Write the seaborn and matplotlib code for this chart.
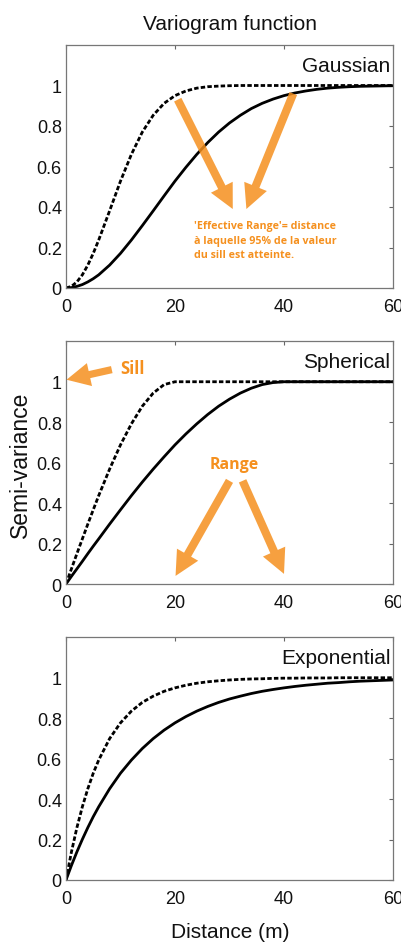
import numpy as np
import pandas as pd
import matplotlib
matplotlib.use("Agg")
import matplotlib.pyplot as plt
import seaborn as sns

# Lag distances (m) at which the variogram models are tabulated
distance = [0, 1, 2, 3, 4, 5, 6, 8, 10, 12, 14, 16, 18, 20, 22, 24, 26, 28, 30,
            32, 34, 36, 38, 40, 42, 44, 46, 48, 50, 52, 54, 56, 58, 60]

# Semi-variance, short range (dashed) and long range (solid), per model
gauss_short = [0, 0.008, 0.030, 0.065, 0.113, 0.171, 0.237, 0.381, 0.528, 0.660,
               0.770, 0.853, 0.912, 0.950, 0.973, 0.987, 0.994, 0.997, 0.999,
               1.0, 1.0, 1.0, 1.0, 1.0, 1.0, 1.0, 1.0, 1.0, 1.0, 1.0, 1.0, 1.0, 1.0, 1.0]
gauss_long = [0, 0.002, 0.008, 0.017, 0.030, 0.046, 0.065, 0.113, 0.171, 0.237,
              0.308, 0.381, 0.455, 0.528, 0.596, 0.660, 0.718, 0.770, 0.815,
              0.853, 0.886, 0.912, 0.933, 0.950, 0.963, 0.973, 0.981, 0.987,
              0.991, 0.994, 0.996, 0.997, 0.998, 0.999]
sph_short = [0, 0.075, 0.150, 0.223, 0.296, 0.367, 0.437, 0.568, 0.688, 0.792,
             0.879, 0.944, 0.986, 1.0, 1.0, 1.0, 1.0, 1.0, 1.0, 1.0, 1.0, 1.0,
             1.0, 1.0, 1.0, 1.0, 1.0, 1.0, 1.0, 1.0, 1.0, 1.0, 1.0, 1.0]
sph_long = [0, 0.038, 0.075, 0.112, 0.150, 0.187, 0.223, 0.296, 0.367, 0.437,
            0.504, 0.568, 0.629, 0.688, 0.742, 0.792, 0.838, 0.879, 0.914,
            0.944, 0.968, 0.986, 0.996, 1.0, 1.0, 1.0, 1.0, 1.0, 1.0, 1.0, 1.0,
            1.0, 1.0, 1.0]
exp_short = [0, 0.139, 0.259, 0.362, 0.451, 0.528, 0.593, 0.699, 0.777, 0.835,
             0.878, 0.909, 0.933, 0.950, 0.963, 0.973, 0.980, 0.985, 0.989,
             0.992, 0.994, 0.995, 0.997, 0.998, 0.998, 0.999, 0.999, 0.999,
             1.0, 1.0, 1.0, 1.0, 1.0, 1.0]
exp_long = [0, 0.072, 0.139, 0.201, 0.259, 0.313, 0.362, 0.451, 0.528, 0.593,
            0.650, 0.699, 0.741, 0.777, 0.808, 0.835, 0.858, 0.878, 0.895,
            0.909, 0.922, 0.933, 0.942, 0.950, 0.957, 0.963, 0.968, 0.973,
            0.976, 0.980, 0.983, 0.985, 0.987, 0.989]

model_names = ["Gaussian", "Spherical", "Exponential"]
x_ticks = [0, 20, 40, 60]
y_ticks = [0, 0.2, 0.4, 0.6, 0.8, 1]
y_tick_labels = ["0", "0.2", "0.4", "0.6", "0.8", "1"]

ORANGE = "#F5901E"

sns.set_theme(style="white")
plt.rcParams["font.family"] = ["Liberation Sans", "DejaVu Sans"]

fig = plt.figure(figsize=(4.02, 9.45), dpi=100)
W, H = 402.0, 945.0
panel_px = [(46, 289), (342.3, 585), (638.3, 881)]
axes = []
for top, bottom in panel_px:
    axes.append(fig.add_axes([66 / W, 1 - bottom / H, 327 / W, (bottom - top) / H]))

series = [(gauss_short, gauss_long), (sph_short, sph_long), (exp_short, exp_long)]

for ax, name, (short, long_) in zip(axes, model_names, series):
    df = pd.DataFrame({"distance": distance, "short": short, "long": long_})
    sns.lineplot(data=df, x="distance", y="long", ax=ax, color="black", lw=2.0)
    sns.lineplot(data=df, x="distance", y="short", ax=ax, color="black", lw=2.0,
                 linestyle=(0, (1.6, 0.8)))
    ax.set_xlim(0, 60)
    ax.set_ylim(0, 1.2)
    ax.set_xticks(x_ticks)
    ax.set_xticklabels([str(t) for t in x_ticks])
    ax.set_yticks(y_ticks)
    ax.set_yticklabels(y_tick_labels)
    ax.set_xlabel("")
    ax.set_ylabel("")
    ax.tick_params(direction="in", top=True, right=True, length=3, width=0.8,
                   color="#666666", labelsize=13, labelcolor="#111111")
    ax.tick_params(axis="x", pad=7)
    ax.tick_params(axis="y", pad=3)
    for sp in ax.spines.values():
        sp.set_visible(True)
        sp.set_color("#777777")
        sp.set_linewidth(0.9)
    ax.text(59.5, 1.10, name, ha="right", va="center", fontsize=15, color="#111111")

# Title and shared axis labels
fig.text(230 / W, 1 - 25 / H, "Variogram function", ha="center", va="center",
         fontsize=15, color="#111111")
fig.text(20 / W, 1 - 465 / H, "Semi-variance", ha="center", va="center",
         rotation=90, fontsize=16.5, color="#111111")
fig.text(230 / W, 1 - 933 / H, "Distance (m)", ha="center", va="center",
         fontsize=15, color="#111111")


def arrow(ax, start, end, tail=0.45, head_w=1.35, head_l=1.35, scale=13):
    ax.annotate("", xy=end, xytext=start,
                arrowprops=dict(arrowstyle=f"simple,head_length={head_l},"
                                           f"head_width={head_w},tail_width={tail}",
                                mutation_scale=scale, color=ORANGE, alpha=0.85,
                                lw=0, shrinkA=0, shrinkB=0),
                annotation_clip=False, zorder=5)


# Gaussian panel: effective range annotation
ax = axes[0]
arrow(ax, (20.5, 0.93), (30.6, 0.39))
arrow(ax, (41.7, 0.96), (33.1, 0.39))
ax.text(23.5, 0.335, "'Effective Range'= distance\nà laquelle 95% de la valeur\ndu sill est atteinte.",
        ha="left", va="top", fontsize=7.7, fontweight="bold", color=ORANGE,
        family=["Open Sans", "DejaVu Sans"], linespacing=1.45)

# Spherical panel: sill and range annotations
ax = axes[1]
arrow(ax, (8.4, 1.06), (0.1, 1.01), tail=0.4, head_w=1.3, head_l=1.3)
ax.text(9.9, 1.07, "Sill", ha="left", va="center", fontsize=12, fontweight="bold",
        color=ORANGE, family=["Open Sans", "DejaVu Sans"])
ax.text(30.9, 0.594, "Range", ha="center", va="center", fontsize=11.5,
        fontweight="bold", color=ORANGE, family=["Open Sans", "DejaVu Sans"])
arrow(ax, (30.0, 0.51), (20.1, 0.04))
arrow(ax, (32.4, 0.51), (40.0, 0.05))

fig.savefig("out.png", dpi=100)
